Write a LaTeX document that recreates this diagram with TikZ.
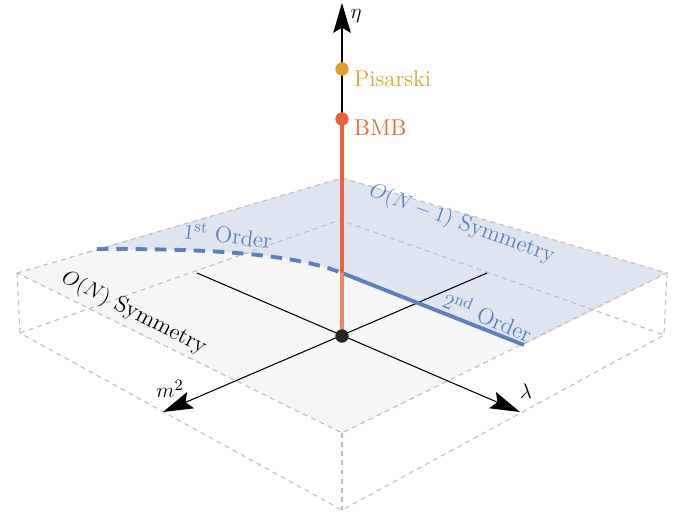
\documentclass[tikz,border=0pt]{standalone}
\usepackage{amsmath}
\usepackage{amssymb}
\usepackage{xcolor}
\usepackage{tikz}
\usetikzlibrary{arrows.meta}
\definecolor{planeblue}{HTML}{DFE5F0}
\definecolor{planegray}{HTML}{F6F6F6}
\definecolor{phaseblue}{HTML}{5B80BC}
\definecolor{bmbred}{HTML}{E8643A}
\definecolor{bmblight}{HTML}{EC8966}
\definecolor{pisgold}{HTML}{E0A02A}
\definecolor{boxgray}{HTML}{BDBDBD}

\begin{document}
\begin{tikzpicture}[x=0.02cm, y=-0.02cm,
  boxedge/.style={boxgray, line width=0.6pt, dash pattern=on 2.8pt off 2.4pt},
  axisline/.style={black, line width=0.6pt, -{Stealth[length=17pt, width=10pt, inset=3pt]}},
  lab/.style={font=\fontsize{13}{15}\selectfont},
  phaseline/.style={phaseblue, line width=2.2pt}]
  \useasboundingbox (0,0) rectangle (687,517);
  % corners of the box, bottom face (0) and plane (1)
  \coordinate (B0) at (340,220);
  \coordinate (L0) at (20,333);
  \coordinate (R0) at (664,335);
  \coordinate (F0) at (342,510);
  \coordinate (B1) at (342,178);
  \coordinate (L1) at (17,273);
  \coordinate (R1) at (667,273);
  \coordinate (F1) at (342,433);
  \coordinate (orig) at (342,336);
  \coordinate (crit) at (342,273);
  \coordinate (first) at (97,249);
  \coordinate (second) at (524,345);
  \coordinate (lamback) at (197,273);
  \coordinate (lamtip) at (520,412);
  \coordinate (mback) at (487,273);
  \coordinate (mtip) at (163,412);
  \coordinate (etatip) at (342,3);
  \coordinate (pis) at (342,69);
  \coordinate (bmb) at (342,119);
  % the plane
  \fill[planegray] (L1) -- (B1) -- (R1) -- (F1) -- cycle;
  \fill[planeblue] (first) .. controls (167,249) and (282,249) .. (crit) -- (second) -- (R1) -- (B1) -- cycle;
  % dashed box
  \draw[boxedge] (L0) -- (B0) -- (R0) -- (F0) -- cycle;
  \draw[boxedge] (L1) -- (B1) -- (R1) -- (F1) -- cycle;
  \draw[boxedge] (L1) -- (L0);
  \draw[boxedge] (R1) -- (R0);
  \draw[boxedge] (F1) -- (F0);
  \draw[boxedge] (B1) -- (B0);
  % axes
  \draw[axisline] (lamback) -- (lamtip);
  \draw[axisline] (mback) -- (mtip);
  \node[lab, anchor=center] (lamlab) at (526,391) {$\lambda$};
  \node[lab, anchor=center] (mlab) at (170,389) {$m^2$};
  % transition lines
  \draw[phaseline, dash pattern=on 6.5pt off 4.5pt] (first) .. controls (167,249) and (282,249) .. (crit);
  \draw[phaseline] (crit) -- (second);
  % eta axis
  \draw[bmblight, line width=2.3pt] (orig) -- (crit);
  \draw[bmbred, line width=2.3pt] (crit) -- (bmb);
  \draw[axisline] (bmb) -- (etatip);
  \node[lab, anchor=center] (etalab) at (356,16) {$\eta$};
  \fill[black!85] (orig) circle (3.8pt);
  \fill[bmbred] (bmb) circle (3.8pt);
  \fill[pisgold] (pis) circle (3.8pt);
  \node[lab, text=pisgold, anchor=west] (pislab) at (348,79) {Pisarski};
  \node[lab, text=bmbred, anchor=west] (bmblab) at (348,128) {BMB};
  % phase labels
  \node[lab, rotate=-27] (onlab) at (134,313) {$O(N)$ Symmetry};
  \node[lab, text=phaseblue, rotate=-20] (on1lab) at (462,224) {$O(N-1)$ Symmetry};
  \node[lab, text=phaseblue, rotate=-7] (firstlab) at (228,235) {$1^{\text{st}}$ Order};
  \node[lab, text=phaseblue, rotate=-23] (secondlab) at (488,316) {$2^{\text{nd}}$ Order};
\end{tikzpicture}
\end{document}
